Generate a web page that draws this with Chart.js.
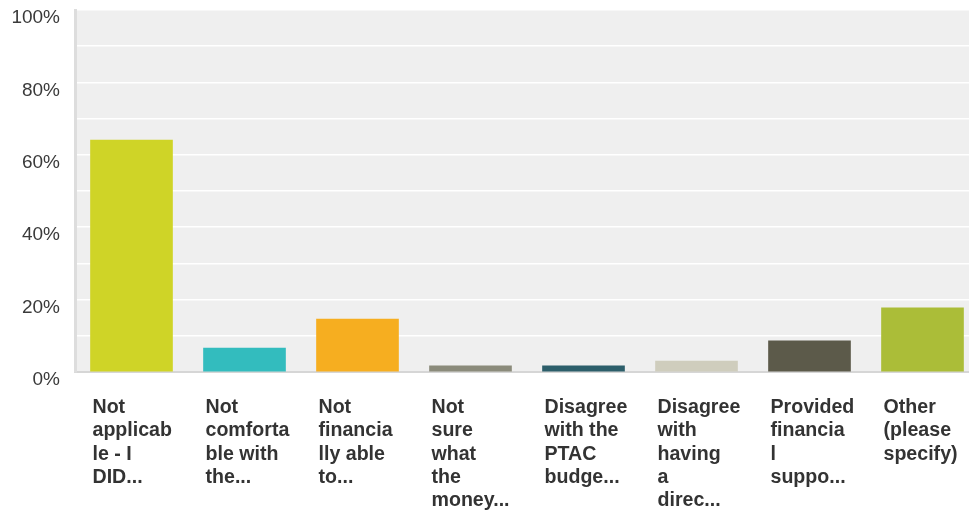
<!DOCTYPE html>
<html><head><meta charset="utf-8">
<style>html,body{margin:0;padding:0;background:#fff;}#wrap{width:969px;height:514px;position:relative;}</style>
<script src="https://cdn.jsdelivr.net/npm/chart.js@4"></script>
</head><body><div id="wrap"><canvas id="c"></canvas></div>
<script>
const categories = [
  ["Not","applicab","le - I","DID..."],
  ["Not","comforta","ble with","the..."],
  ["Not","financia","lly able","to..."],
  ["Not","sure","what","the","money..."],
  ["Disagree","with the","PTAC","budge..."],
  ["Disagree","with","having","a","direc..."],
  ["Provided","financia","l","suppo..."],
  ["Other","(please","specify)"]
];
const values = [64.1, 6.6, 14.6, 1.7, 1.7, 3.0, 8.6, 17.7];
const barColors = ["#cfd427","#33bcbe","#f6ae20","#8b8b7b","#2c5e6a","#cfcdbd","#5c5a4a","#abbd38"];
const yLabelTicks = [0, 20, 40, 60, 80, 100];

const FONT = "'Liberation Sans', Arial, Helvetica, sans-serif";

const plotBg = {
  id: 'plotBg',
  beforeDraw(chart) {
    const {ctx, chartArea: a} = chart;
    ctx.save();
    ctx.fillStyle = '#efefef';
    ctx.fillRect(a.left, a.top, a.right - a.left, a.bottom - a.top);
    ctx.restore();
  }
};

new Chart(document.getElementById('c'), {
  type: 'bar',
  data: {
    datasets: [{
      data: values.map((v, i) => ({x: i, y: v})),
      backgroundColor: barColors,
      borderWidth: 0,
      barThickness: 82
    }]
  },
  plugins: [plotBg],
  options: {
    responsive: true,
    maintainAspectRatio: false,
    devicePixelRatio: 1,
    animation: false,
    layout: {padding: {top: 10, left: 0, right: 0, bottom: 0}},
    plugins: {legend: {display: false}, tooltip: {enabled: false}},
    scales: {
      x: {
        type: 'linear',
        offset: false,
        min: -0.5,
        max: -0.5 + 894 / 113,
        afterBuildTicks: (axis) => { axis.ticks = categories.map((_, i) => ({value: i})); },
        afterFit: (scale) => { scale.paddingLeft = 0; scale.paddingRight = 0; scale.height = 142; },
        grid: {display: false, drawTicks: false},
        border: {display: true, color: '#d6d6d6', width: 2},
        ticks: {
          callback: (v) => categories[v],
          align: 'start',
          labelOffset: -39,
          padding: 24,
          autoSkip: false,
          maxRotation: 0,
          minRotation: 0,
          color: '#333333',
          font: {family: FONT, size: 19.6, weight: 'bold', lineHeight: 23.33 / 19.6}
        }
      },
      y: {
        min: 0,
        max: 100,
        afterFit: (scale) => { scale.paddingTop = 0; scale.paddingBottom = 0; scale.width = 75; },
        grid: {
          color: (ctx) => ctx.tick && ctx.tick.value === 0 ? 'rgba(0,0,0,0)' : '#ffffff',
          lineWidth: 1.5,
          drawTicks: false
        },
        border: {display: true, color: '#dddddd', width: 3},
        ticks: {
          stepSize: 10,
          padding: 15,
          labelOffset: 8,
          color: '#3a3a3a',
          font: {family: FONT, size: 19},
          callback: (v) => yLabelTicks.includes(v) ? v + '%' : ''
        }
      }
    }
  }
});
</script>
</body></html>
